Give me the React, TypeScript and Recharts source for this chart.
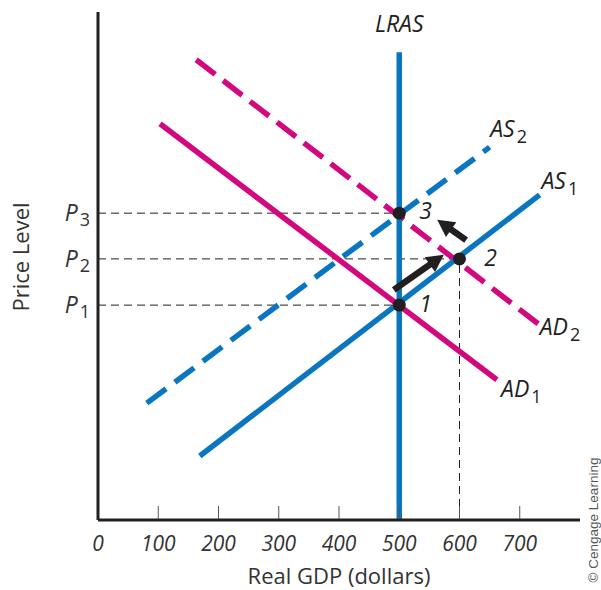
import { LineChart, Line, XAxis, YAxis, ReferenceLine, ReferenceDot, Label } from "recharts";

// Colours and type
const BLUE = "#0a76c0";
const MAGENTA = "#d2087e";
const INK = "#231f20";
const FONT = "'Open Sans', Lato, sans-serif";

// Price levels at the three equilibria (vertical units, axis runs 0-100)
const P1 = 42.3;
const P2 = 51.4;
const P3 = 60.4;

const xTicks = [0, 100, 200, 300, 400, 500, 600, 700];
const priceTicks = [P1, P2, P3];
const priceTickNames = ["1", "2", "3"];

// Curves
const lras = [{ x: 500, y: 0 }, { x: 500, y: 92.1 }];
const as1 = [{ x: 169, y: 12.6 }, { x: 733, y: 64.0 }];
const as2 = [{ x: 81, y: 23.0 }, { x: 650, y: 73.4 }];
const ad1 = [{ x: 103, y: 78.0 }, { x: 662, y: 27.6 }];
const ad2 = [{ x: 163, y: 90.6 }, { x: 733, y: 38.4 }];

// Equilibrium points
const points = [
  { x: 500, y: P1 },
  { x: 600, y: P2 },
  { x: 500, y: P3 },
];

// Movement arrows (tail -> tip)
const arrows = [
  { from: { x: 491, y: 45.3 }, to: { x: 574, y: 52.2 } },
  { from: { x: 611, y: 55.1 }, to: { x: 563, y: 59.1 } },
];

// Text labels: [main, subscript, x, y, centered]
const curveLabels: Array<[string, string, number, number, boolean]> = [
  ["LRAS", "", 500, 96.1, true],
  ["AS", "2", 651, 75.4, false],
  ["AS", "1", 736, 65.2, false],
  ["AD", "2", 733, 36.4, false],
  ["AD", "1", 669, 24.2, false],
];
const pointLabels: Array<[string, number, number]> = [
  ["1", 533, 40.9],
  ["2", 641, 50.0],
  ["3", 533, 59.3],
];

function XTick(props: any) {
  const { x, y, payload } = props;
  return (
    <g>
      {payload.value !== 0 && (
        <line x1={x} y1={y - 1} x2={x} y2={y - 14} stroke="#555" strokeWidth={1} />
      )}
      <text x={x} y={y + 31} textAnchor="middle" fontFamily={FONT} fontStyle="italic" fontSize={21} fill="#333">
        {payload.value}
      </text>
    </g>
  );
}

function YTick(props: any) {
  const { x, y, index } = props;
  return (
    <text x={x - 8} y={y + 8} textAnchor="end" fontFamily={FONT} fill="#333">
      <tspan fontStyle="italic" fontSize={23}>P</tspan>
      <tspan fontSize={18} dy={5} dx={2}>{priceTickNames[index]}</tspan>
    </text>
  );
}

function Arrow(props: any) {
  const { x1, y1, x2, y2 } = props;
  const dx = x2 - x1;
  const dy = y2 - y1;
  const len = Math.sqrt(dx * dx + dy * dy);
  const ux = dx / len;
  const uy = dy / len;
  const head = 17;
  const half = 9;
  const bx = x2 - ux * head;
  const by = y2 - uy * head;
  return (
    <g>
      <line x1={x1} y1={y1} x2={bx + ux * 2} y2={by + uy * 2} stroke={INK} strokeWidth={6.5} />
      <polygon
        points={`${x2},${y2} ${bx - uy * half},${by + ux * half} ${bx + uy * half},${by - ux * half}`}
        fill={INK}
      />
    </g>
  );
}

function CurveLabel(main: string, sub: string, centered: boolean) {
  return (props: any) => (
    <text
      x={props.cx}
      y={props.cy}
      textAnchor={centered ? "middle" : "start"}
      fontFamily={FONT}
      fill={INK}
    >
      <tspan fontStyle="italic" fontSize={23}>{main}</tspan>
      {sub && (
        <tspan fontSize={18} dy={6} dx={2}>{sub}</tspan>
      )}
    </text>
  );
}

function PointLabel(txt: string) {
  return (props: any) => (
    <text x={props.cx} y={props.cy} fontFamily={FONT} fontStyle="italic" fontSize={23} fill={INK}>
      {txt}
    </text>
  );
}

export default function App() {
  return (
    <div style={{ position: "absolute", left: 0, top: 0, background: "#fff" }}>
      <LineChart width={601} height={590} margin={{ top: 12, right: 21, left: 0, bottom: 0 }}>
        <XAxis
          type="number"
          dataKey="x"
          domain={[0, 800]}
          ticks={xTicks}
          height={70}
          tickSize={0}
          tickMargin={0}
          tickLine={false}
          tick={<XTick />}
          axisLine={{ stroke: INK, strokeWidth: 3 }}
          allowDataOverflow
        >
          <Label
            content={(p: any) => (
              <g>
                <text
                  x={p.viewBox.x + p.viewBox.width / 2}
                  y={p.viewBox.y + 64}
                  textAnchor="middle"
                  fontFamily={FONT}
                  fontSize={22}
                  fill="#333"
                >
                  Real GDP (dollars)
                </text>
                <text
                  transform={`translate(${p.viewBox.x + p.viewBox.width + 18}, ${p.viewBox.y}) rotate(-90)`}
                  textAnchor="middle"
                  fontFamily="'Liberation Sans', Arial, sans-serif"
                  fontSize={13.5}
                  fill="#555"
                >
                  © Cengage Learning
                </text>
              </g>
            )}
          />
        </XAxis>
        <YAxis
          type="number"
          domain={[0, 100]}
          ticks={priceTicks}
          width={98}
          tickSize={0}
          tickMargin={0}
          tickLine={false}
          tick={<YTick />}
          axisLine={{ stroke: INK, strokeWidth: 3 }}
          allowDataOverflow
        >
          <Label
            content={() => (
              <text
                transform="translate(29, 257) rotate(-90)"
                textAnchor="middle"
                fontFamily={FONT}
                fontSize={22}
                fill="#333"
              >
                Price Level
              </text>
            )}
          />
        </YAxis>

        {/* dashed guides to the axes */}
        {points.map((p, i) => (
          <ReferenceLine
            key={`h${i}`}
            segment={[{ x: 0, y: p.y }, p]}
            stroke={INK}
            strokeWidth={1}
            strokeDasharray="8 5"
          />
        ))}
        <ReferenceLine
          segment={[{ x: 600, y: 0 }, { x: 600, y: P2 }]}
          stroke={INK}
          strokeWidth={1}
          strokeDasharray="8 5"
        />

        <Line data={ad1} dataKey="y" stroke={MAGENTA} strokeWidth={5.5} dot={false} activeDot={false} isAnimationActive={false} />
        <Line data={ad2} dataKey="y" stroke={MAGENTA} strokeWidth={5.5} strokeDasharray="24 10" dot={false} activeDot={false} isAnimationActive={false} />
        <Line data={as2} dataKey="y" stroke={BLUE} strokeWidth={5.5} strokeDasharray="24 11" dot={false} activeDot={false} isAnimationActive={false} />
        <Line data={as1} dataKey="y" stroke={BLUE} strokeWidth={5.5} dot={false} activeDot={false} isAnimationActive={false} />
        <Line data={lras} dataKey="y" stroke={BLUE} strokeWidth={5.5} dot={false} activeDot={false} isAnimationActive={false} />

        {points.map((p, i) => (
          <ReferenceDot key={`p${i}`} x={p.x} y={p.y} r={6.5} fill={INK} stroke="none" />
        ))}
        {arrows.map((a, i) => (
          <ReferenceLine key={`a${i}`} segment={[a.from, a.to]} shape={Arrow} />
        ))}
        {curveLabels.map(([m, s, x, y, c], i) => (
          <ReferenceDot key={`c${i}`} x={x} y={y} r={0} shape={CurveLabel(m, s, c)} ifOverflow="visible" />
        ))}
        {pointLabels.map(([t, x, y], i) => (
          <ReferenceDot key={`l${i}`} x={x} y={y} r={0} shape={PointLabel(t)} />
        ))}
      </LineChart>
    </div>
  );
}
